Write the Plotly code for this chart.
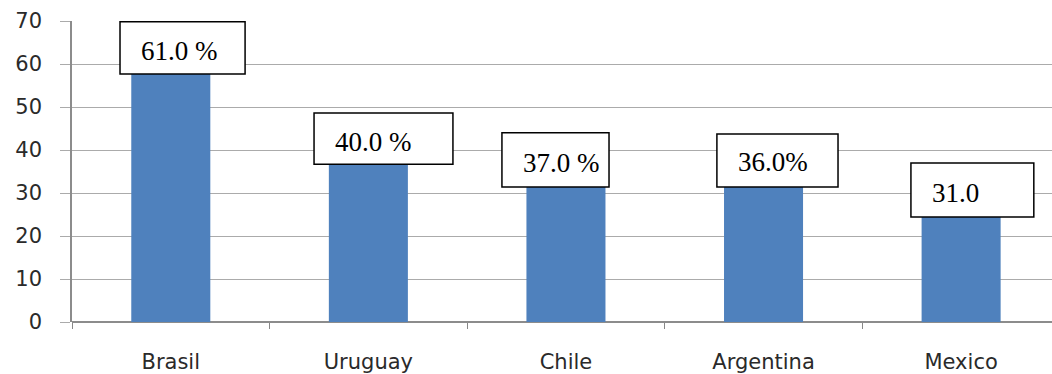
import plotly.graph_objects as go

# Data
countries = ["Brasil", "Uruguay", "Chile", "Argentina", "Mexico"]
values = [61.0, 40.0, 37.0, 36.0, 31.0]
label_texts = ["61.0 %", "40.0 %", "37.0 %", "36.0%", "31.0"]
y_ticks = [0, 10, 20, 30, 40, 50, 60, 70]

# Callout box placement, relative to each bar (x in category units, y in value units)
box_left = [-0.257, -0.275, -0.324, -0.236, -0.254]
box_width = [0.633, 0.703, 0.542, 0.613, 0.622]
box_bottom = [-3.3, -3.3, -5.6, -4.6, -6.6]
box_top = [8.8, 8.6, 7.0, 7.7, 6.0]
text_pad = 0.096
text_dy = [2.0, 1.9, 0.0, 1.1, -1.0]

BAR = "#4F81BD"
GRID = "#ababab"

fig = go.Figure(
    go.Bar(
        x=countries,
        y=values,
        marker=dict(color=BAR, line=dict(width=0)),
        width=0.4,
        hoverinfo="skip",
    )
)

shapes = []
annotations = []
for i, (v, t) in enumerate(zip(values, label_texts)):
    x0 = i + box_left[i]
    shapes.append(dict(
        type="rect", xref="x", yref="y",
        x0=x0, x1=x0 + box_width[i],
        y0=v + box_bottom[i], y1=v + box_top[i],
        line=dict(color="black", width=1.5),
        fillcolor="white", layer="above",
    ))
    annotations.append(dict(
        xref="x", yref="y", x=x0 + text_pad, y=v + text_dy[i],
        xanchor="left", yanchor="middle", showarrow=False, text=t,
        font=dict(family="Liberation Serif", size=27, color="black"),
    ))

fig.update_layout(
    width=1052, height=374,
    margin=dict(l=72, r=0, t=21, b=52),
    paper_bgcolor="white", plot_bgcolor="white",
    showlegend=False,
    shapes=shapes, annotations=annotations,
    xaxis=dict(
        range=[-0.5, 4.46],
        tickson="boundaries", ticks="outside", ticklen=6, tickcolor="#878787",
        showline=False, showgrid=False,
        tickfont=dict(family="DejaVu Sans", size=21, color="#2a2a2a"),
        ticklabelstandoff=25,
    ),
    yaxis=dict(
        range=[0, 70], tickvals=y_ticks,
        showgrid=True, gridcolor=GRID, gridwidth=1.2,
        ticks="outside", ticklen=10, tickcolor=GRID,
        showline=True, linecolor="#8c8c8c", linewidth=1.5,
        zeroline=True, zerolinecolor="#8c8c8c", zerolinewidth=1.5,
        tickfont=dict(family="DejaVu Sans", size=21, color="#2a2a2a"),
        ticklabelstandoff=14,
    ),
)

fig.write_html("out.html")
